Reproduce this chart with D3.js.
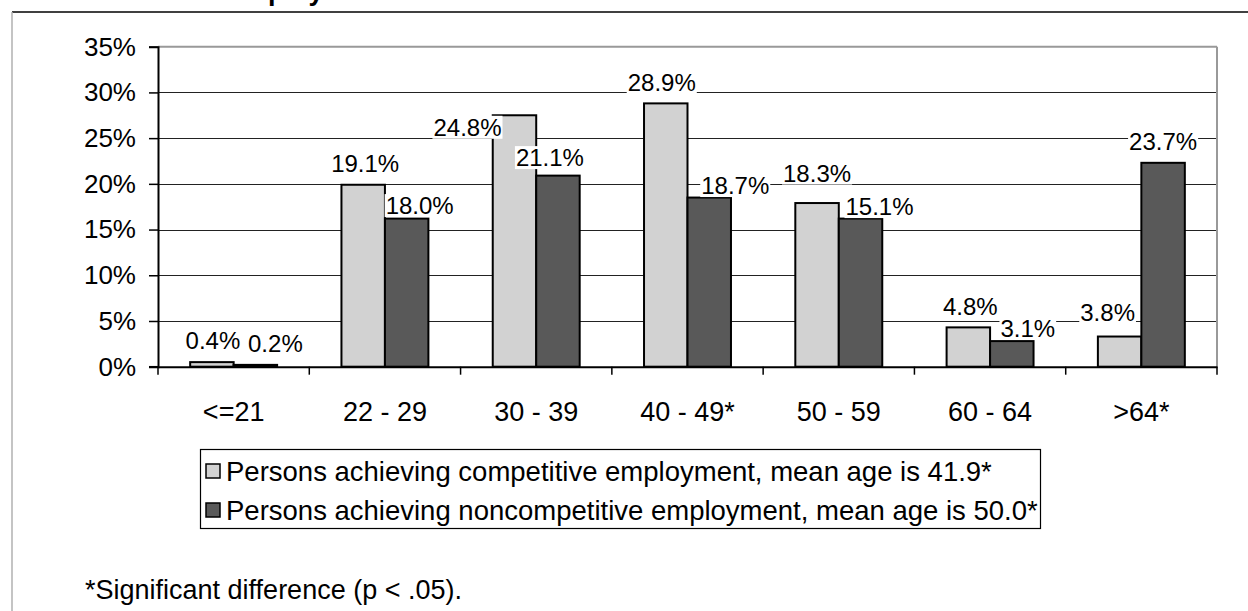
<!DOCTYPE html>
<html><head><meta charset="utf-8">
<script src="https://cdn.jsdelivr.net/npm/d3@7"></script>
<style>body{margin:0;background:#fff}svg{display:block;font-family:"Liberation Sans",Arial,sans-serif}</style>
</head><body><svg id="c" width="1248" height="611"></svg>
<script>
const titleText = "Employment";
const categories = ["<=21","22 - 29","30 - 39","40 - 49*","50 - 59","60 - 64",">64*"];
const seriesNames = ["Persons achieving competitive employment, mean age is 41.9*",
                     "Persons achieving noncompetitive employment, mean age is 50.0*"];
const competitive = [0.5, 19.9, 27.5, 28.8, 17.9, 4.3, 3.3];
const noncompetitive = [0.2, 16.2, 20.9, 18.5, 16.2, 2.8, 22.3];
const competitiveLabels = ["0.4%","19.1%","24.8%","28.9%","18.3%","4.8%","3.8%"];
const noncompetitiveLabels = ["0.2%","18.0%","21.1%","18.7%","15.1%","3.1%","23.7%"];
const yTicks = [0,5,10,15,20,25,30,35];
const footnote = "*Significant difference (p < .05).";
// manual label placement (pixels relative to bar top-centre)
const compLabelOffsets = [[1,-22],[2,-21],[-47,12],[-4,-21],[0,-30],[2,-21],[-12,-24]];
const nonLabelOffsets = [[20,-21],[13,-13],[-8,-18],[26,-12],[19,-12],[16,-13],[0,-21]];

const svg = d3.select("#c");
const L=158, R=1217, T=46.7, B=366.7;
const y = d3.scaleLinear().domain([0,35]).range([B,T]);
const x0 = d3.scaleBand().domain(categories).range([L,R]).padding(0);
const x1 = d3.scaleBand().domain([0,1]).range([0,x0.bandwidth()]).paddingInner(0).paddingOuter(0.74);
const colors = ["#d2d2d2","#595959"];

// outer frame
svg.append("line").attr("x1",12).attr("x2",1248).attr("y1",12).attr("y2",12).attr("stroke","#000").attr("stroke-width",1.5);
svg.append("line").attr("x1",12).attr("x2",12).attr("y1",12).attr("y2",611).attr("stroke","#b0b0b0").attr("stroke-width",1.5);
// title, cut off by the top edge as in the reference
svg.append("text").attr("x",388).attr("y",-0.5).attr("text-anchor","end").attr("font-weight","bold").attr("font-size",27).text(titleText);

// gridlines
svg.append("g").selectAll("line").data(yTicks.filter(d=>d>0&&d<35)).join("line")
  .attr("x1",L).attr("x2",R).attr("y1",d=>Math.round(y(d))+0.5).attr("y2",d=>Math.round(y(d))+0.5)
  .attr("stroke","#222").attr("stroke-width",1);
// plot border top/right
svg.append("line").attr("x1",L).attr("x2",R).attr("y1",y(35)).attr("y2",y(35)).attr("stroke","#999").attr("stroke-width",2);
svg.append("line").attr("x1",R).attr("x2",R).attr("y1",y(35)).attr("y2",B).attr("stroke","#999").attr("stroke-width",2);

// bars
const data = categories.map((c,i)=>({c, vals:[competitive[i],noncompetitive[i]], labs:[competitiveLabels[i],noncompetitiveLabels[i]], offs:[compLabelOffsets[i],nonLabelOffsets[i]]}));
const g = svg.append("g").selectAll("g").data(data).join("g").attr("transform",d=>`translate(${x0(d.c)},0)`);
g.selectAll("rect").data(d=>d.vals.map((v,k)=>({v,k}))).join("rect")
  .attr("x",d=>x1(d.k)).attr("width",x1.bandwidth())
  .attr("y",d=>y(d.v)).attr("height",d=>B-y(d.v))
  .attr("fill",d=>colors[d.k]).attr("stroke","#000").attr("stroke-width",2);

// axes
const yAxis = svg.append("g").attr("transform",`translate(${L},0)`)
  .call(d3.axisLeft(y).tickValues(yTicks).tickFormat(d=>d+"%").tickSize(9).tickPadding(13));
yAxis.select(".domain").attr("stroke","#000").attr("stroke-width",2);
yAxis.selectAll("text").attr("font-size",26).attr("fill","#000").attr("font-family","Liberation Sans, Arial");
yAxis.selectAll(".tick line").attr("stroke","#000").attr("stroke-width",1.5);

const xAxis = svg.append("g").attr("transform",`translate(0,${B})`)
  .call(d3.axisBottom(x0).tickSize(0).tickPadding(35));
xAxis.select(".domain").attr("stroke","#000").attr("stroke-width",2);
xAxis.selectAll("text").attr("font-size",27).attr("fill","#000").attr("font-family","Liberation Sans, Arial");
// category boundary ticks
svg.append("g").selectAll("line").data(d3.range(categories.length+1)).join("line")
  .attr("x1",i=>L+i*x0.step()).attr("x2",i=>L+i*x0.step()).attr("y1",B).attr("y2",B+8)
  .attr("stroke","#000").attr("stroke-width",1.5);
svg.append("line").attr("x1",L-9).attr("x2",L).attr("y1",B).attr("y2",B).attr("stroke","#000").attr("stroke-width",1.5);

// data labels with white background
const lab = svg.append("g");
data.forEach(d=>{
  d.vals.forEach((v,k)=>{
    const cx = x0(d.c)+x1(k)+x1.bandwidth()/2 + d.offs[k][0];
    const cy = y(v) + d.offs[k][1];
    const bg = lab.append("rect").attr("fill","#fff");
    const t = lab.append("text").attr("x",cx).attr("y",cy).attr("text-anchor","middle")
      .attr("dominant-baseline","central").attr("font-size",24).text(d.labs[k]);
    const bb = t.node().getBBox();
    bg.attr("x",bb.x-1).attr("y",bb.y+2).attr("width",bb.width+2).attr("height",bb.height-4);
  });
});

// legend
const lg = svg.append("g");
lg.append("rect").attr("x",200.5).attr("y",449.5).attr("width",840).attr("height",79).attr("fill","#fff").attr("stroke","#000").attr("stroke-width",1.2);
const rowsY = [471,510];
seriesNames.forEach((s,k)=>{
  lg.append("rect").attr("x",206).attr("y",rowsY[k]-7).attr("width",14).attr("height",14).attr("fill",colors[k]).attr("stroke","#000").attr("stroke-width",1.5);
  lg.append("text").attr("x",226).attr("y",rowsY[k]).attr("dominant-baseline","central").attr("font-size",27.5).text(s);
});

// footnote
svg.append("text").attr("x",85).attr("y",590).attr("dominant-baseline","central").attr("font-size",27).text(footnote);
</script></body></html>
